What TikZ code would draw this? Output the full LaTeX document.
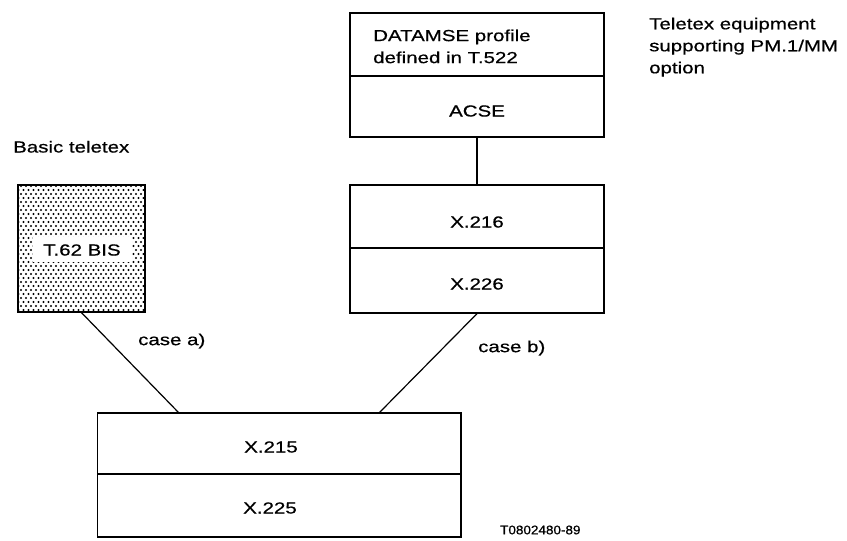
\documentclass[tikz,border=0pt]{standalone}
\usepackage{fontspec}
\setmainfont{Liberation Sans}[FakeStretch=1.28,FakeBold=0.6]
\newfontfamily\reffont{Liberation Sans}[FakeStretch=1.08,FakeBold=0.8]
\begin{document}
\begin{tikzpicture}[x=1pt,y=-1pt,
  half/.style={draw, line width=1.3pt, inner sep=0pt},
  lbl/.style={inner sep=0pt, font=\fontsize{16}{22}\selectfont},
  conn/.style={line width=1.2pt}]
\useasboundingbox (0,0) rectangle (847,541);

% upper stack (DATAMSE / ACSE)
\node[half, minimum width=254pt, minimum height=63pt] (datamse) at (477,44.5) {};
\node[half, minimum width=254pt, minimum height=61pt] (acse) at (477,106.5) {};
\node[lbl, anchor=north west, align=left] (datamsetxt) at (373,29.3) {DATAMSE profile\\defined in T.522};
\node[lbl] (acsetxt) at (477,111) {ACSE};

% middle stack (X.216 / X.226)
\node[half, minimum width=254pt, minimum height=63pt] (x216) at (477,216.5) {};
\node[half, minimum width=254pt, minimum height=65pt] (x226) at (477,280.5) {};
\node[lbl] (x216txt) at (477,222) {X.216};
\node[lbl] (x226txt) at (477,284) {X.226};

% bottom stack (X.215 / X.225)
\node[half, minimum width=363.4pt, minimum height=61pt] (x215) at (279.3,443.5) {};
\node[half, minimum width=363.4pt, minimum height=63pt] (x225) at (279.3,505.5) {};
\node[lbl] (x215txt) at (271,447) {X.215};
\node[lbl] (x225txt) at (270,508) {X.225};

% T.62 BIS dotted box
\node[half, minimum width=127pt, minimum height=127pt] (t62) at (81.5,248.5) {};
\begin{scope}
  \clip ([shift={(1pt,-1pt)}]t62.north west) rectangle ([shift={(-1pt,1pt)}]t62.south east);
  \foreach \j in {0,...,32}
    \foreach \i in {0,...,26}
      \fill ({16+5*\i+2.5*mod(\j,2)},{186+4*\j}) circle (1.1pt);
\end{scope}
\node[fill=white, inner sep=0pt, minimum width=99pt, minimum height=25pt] (t62bg) at (82.5,249.5) {};
\node[lbl] (t62txt) at (82,250) {T.62 BIS};

% side texts
\node[lbl, anchor=base west] (basic) at (13,152.5) {Basic teletex};
\node[lbl, anchor=north west, align=left] (teletex) at (649,17.5) {Teletex equipment\\supporting PM.1/MM\\option};
\node[lbl, anchor=west] (casea) at (138,341) {case a)};
\node[lbl, anchor=west] (caseb) at (478,348) {case b)};
\node[inner sep=0pt, anchor=west, font=\reffont\fontsize{12.5}{14}\selectfont] (ref) at (500,530) {T0802480-89};

% connectors
\coordinate (ca) at (179,413);
\coordinate (cb) at (379,413);
\draw[conn] (acse.south) -- (x216.north);
\draw[conn] (t62.south) -- (ca);
\draw[conn] (x226.south) -- (cb);
\end{tikzpicture}
\end{document}
